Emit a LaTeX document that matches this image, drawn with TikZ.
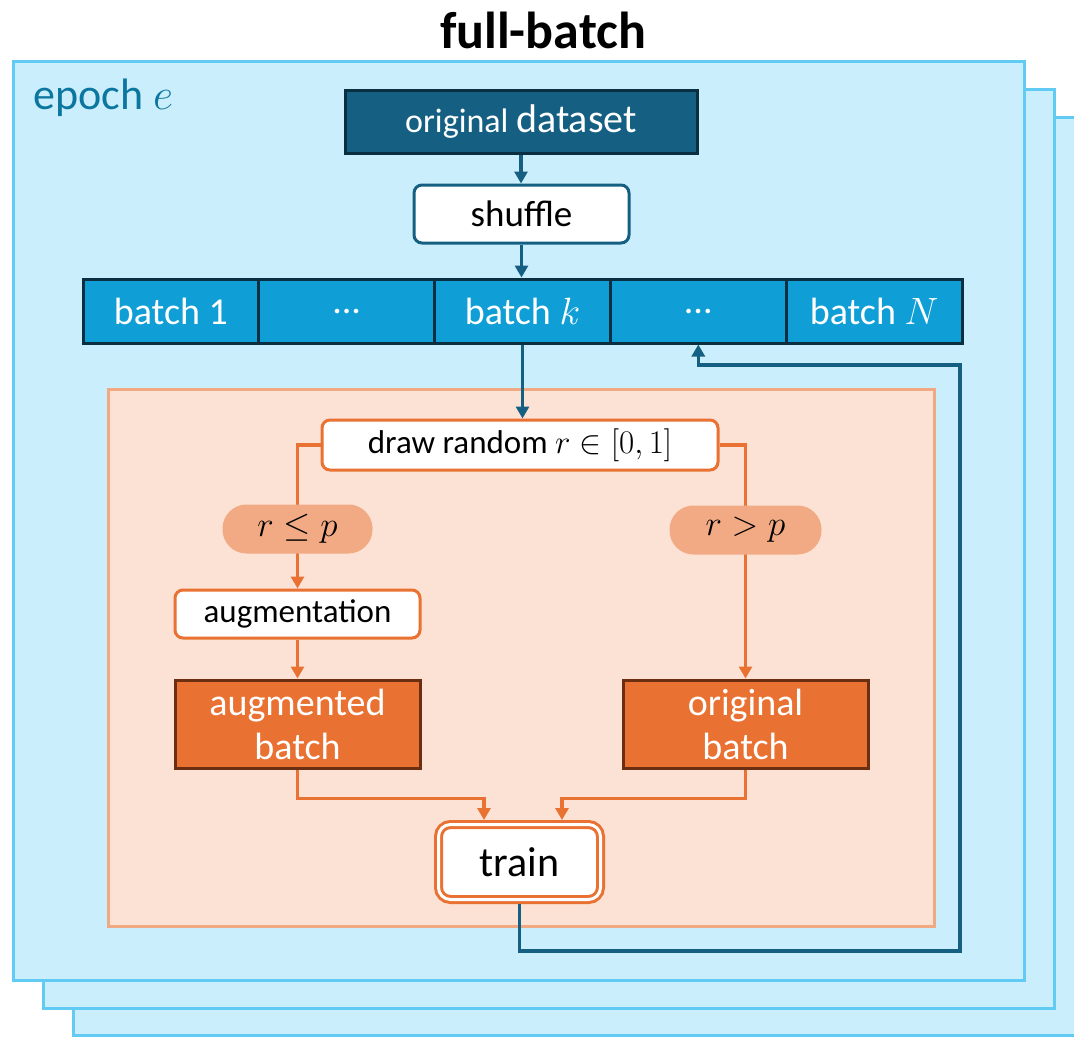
\RequirePackage{fix-cm}
\documentclass[tikz,border=0pt]{standalone}
\usepackage{fontspec}
\setmainfont{Carlito}
\usetikzlibrary{arrows.meta}

\definecolor{framefill}{HTML}{CAEEFB}
\definecolor{frameline}{HTML}{61CBF3}
\definecolor{epochcol}{HTML}{0B76A0}
\definecolor{darkteal}{HTML}{156082}
\definecolor{darkedge}{HTML}{0A2F41}
\definecolor{batchfill}{HTML}{0F9ED5}
\definecolor{panelfill}{HTML}{FBE2D5}
\definecolor{panelline}{HTML}{F1A983}
\definecolor{pillfill}{HTML}{F2AA84}
\definecolor{orangemain}{HTML}{E97132}
\definecolor{brownedge}{HTML}{6B2E10}

\tikzset{
  fs/.style={font=\fontsize{#1}{#1}\selectfont},
  stackframe/.style={fill=framefill, draw=frameline, line width=3pt},
  dsbox/.style={fill=darkteal, draw=darkedge, line width=3pt, text=white,
    minimum width=352pt, minimum height=63pt, inner sep=0pt},
  whitebox/.style={fill=white, line width=3pt, rounded corners=8pt, inner sep=0pt},
  batchcell/.style={fill=batchfill, draw=darkedge, line width=3pt, text=white,
    minimum width=175.8pt, minimum height=64pt, inner sep=0pt, fs=38},
  pill/.style={fill=pillfill, rounded corners=24pt, minimum height=49pt,
    inner sep=0pt, fs=35},
  batchbox/.style={fill=orangemain, draw=brownedge, line width=3pt, text=white,
    minimum width=245pt, minimum height=88pt, inner sep=0pt, align=center,
    font=\fontsize{38}{44}\selectfont},
  tip/.style={-{Triangle[length=12pt,width=13pt]}},
  blueline/.style={draw=darkteal, line width=3.2pt},
  orangeline/.style={draw=orangemain, line width=3.2pt},
}

\begin{document}
\begin{tikzpicture}[x=1pt, y=-1pt]
\useasboundingbox (0,0) rectangle (1074,1037);

% stacked epoch frames
\begin{scope}
  \clip (0,0) rectangle (1074,1037);
  \path[stackframe] (73,117) rectangle (1100,1035);
  \path[stackframe] (43,89) rectangle (1054,1008);
  \path[stackframe] (13,61) rectangle (1024,980);
\end{scope}

\node[font=\bfseries\fontsize{52}{52}\selectfont] (title) at (543,30) {full-batch};
\node[anchor=west, text=epochcol, fs=44, inner sep=0pt] (epoch) at (33,98) {epoch $e$};

% data pipeline
\node[dsbox] (ds) at (521,121.5)
  {\fontsize{34}{34}\selectfont original \fontsize{40}{40}\selectfont dataset};
\node[whitebox, draw=darkteal, minimum width=215pt, minimum height=58pt, fs=37]
  (shuf) at (521.5,214) {shuffle};

\node[batchcell] (b1) at (170.9,311) {batch 1};
\node[batchcell] (b2) at (346.7,311) {...};
\node[batchcell] (b3) at (522.5,311) {batch $k$};
\node[batchcell] (b4) at (698.3,311) {...};
\node[batchcell] (b5) at (874.1,311) {batch $N$};

\draw[blueline, tip] (ds.south) -- (ds.south |- shuf.north);
\draw[blueline, tip] (shuf.south) -- (shuf.south |- b3.north);

% augmentation panel
\path[fill=panelfill, draw=panelline, line width=3pt] (108,389) rectangle (934,926);

\node[whitebox, draw=orangemain, minimum width=396pt, minimum height=50pt, fs=33]
  (rnd) at (520,445) {draw random $r \in [0,1]$};
\draw[blueline, tip] (b3.south) -- (b3.south |- rnd.north);

\node[whitebox, draw=orangemain, minimum width=245pt, minimum height=48pt, fs=33]
  (aug) at (297.5,614) {augmentation};
\node[batchbox] (augb) at (297.5,724) {augmented\\batch};
\node[batchbox] (origb) at (745.5,724) {original\\batch};

\draw[orangeline, tip] (rnd.west) -| (aug.north);
\draw[orangeline, tip] (rnd.east) -| (origb.north);
\node[pill, minimum width=150pt] (le) at (297.5,529) {$r \leq p$};
\node[pill, minimum width=152pt] (gt) at (745.5,530) {$r > p$};
\draw[orangeline, tip] (aug.south) -- (augb.north);

\node[fill=white, draw=orangemain, line width=3pt, double=white,
  double distance=3pt, rounded corners=12pt, minimum width=162pt,
  minimum height=75pt, inner sep=0pt, outer sep=4.5pt, fs=42]
  (train) at (519.5,862) {train};

\draw[orangeline, tip] (augb.south) -- ++(0,29) -| ([xshift=-35.5pt]train.north);
\draw[orangeline, tip] (origb.south) -- ++(0,29) -| ([xshift=42.5pt]train.north);

% loop back to the next batch
\coordinate (loopbot) at (960,951);
\coordinate (looptop) at (960,365);
\draw[blueline, tip] (train.south) |- (loopbot) -- (looptop) -| (b4.south);
\end{tikzpicture}
\end{document}
